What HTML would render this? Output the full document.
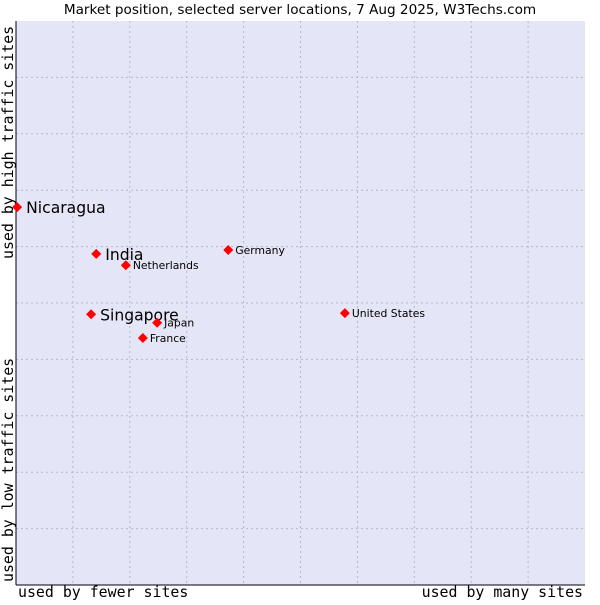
<!DOCTYPE html>
<html><head><meta charset="utf-8"><style>
body{margin:0;background:#fff;width:600px;height:600px;overflow:hidden}
svg text{font-family:"DejaVu Sans","Liberation Sans",sans-serif}
.mono{font-family:"DejaVu Sans Mono","Liberation Mono",monospace}
</style></head><body>
<svg id="chart" width="600" height="600">
<text x="300" y="14" text-anchor="middle" font-size="13.6" fill="#000">Market position, selected server locations, 7 Aug 2025, W3Techs.com</text>
<rect x="16" y="21" width="569" height="564" fill="#e4e6f8"/>
<g id="grid"></g>
<line x1="16" y1="21" x2="16" y2="585" stroke="#000"/>
<line x1="16" y1="585" x2="585" y2="585" stroke="#000"/>
<text class="mono" x="18" y="597" font-size="14.9">used by fewer sites</text>
<text class="mono" x="583" y="597" font-size="14.9" text-anchor="end">used by many sites</text>
<text class="mono" transform="translate(13,582) rotate(-90)" font-size="14.9">used by low traffic sites</text>
<text class="mono" transform="translate(13,259) rotate(-90)" font-size="14.9">used by high traffic sites</text>
<g id="points"></g>
</svg>
<script>
const names=["Nicaragua","India","Netherlands","Germany","United States","Singapore","Japan","France"];
const xVals=[0.2,14.1,19.3,37.3,57.8,13.2,24.8,22.3];
const yVals=[67.0,58.7,56.7,59.4,48.2,48.0,46.5,43.8];
const big=[true,true,false,false,false,true,false,false];
const NS="http://www.w3.org/2000/svg";
const sx=v=>16+v*5.69, sy=v=>585-v*5.64;
const grid=document.getElementById('grid');
for(let i=1;i<10;i++){
 const a=document.createElementNS(NS,'line');
 
 
 a.setAttribute('x1',sx(i*10));a.setAttribute('x2',sx(i*10));a.setAttribute('y1',21);a.setAttribute('y2',585);
 a.setAttribute('stroke','#b8b8c4');a.setAttribute('stroke-dasharray','2,3');grid.appendChild(a);
 const b=document.createElementNS(NS,'line');
 
 
 b.setAttribute('y1',sy(i*10));b.setAttribute('y2',sy(i*10));b.setAttribute('x1',16);b.setAttribute('x2',585);
 b.setAttribute('stroke','#b8b8c4');b.setAttribute('stroke-dasharray','2,3');grid.appendChild(b);
}
const pts=document.getElementById('points');
names.forEach((n,i)=>{
 const x=sx(xVals[i]),y=sy(yVals[i]);
 const p=document.createElementNS(NS,'polygon');
 
 
 p.setAttribute('points',`${x},${y-5} ${x+5},${y} ${x},${y+5} ${x-5},${y}`);
 p.setAttribute('fill','#f00');pts.appendChild(p);
 const t=document.createElementNS(NS,'text');
 
 
 t.setAttribute('x',x+(big[i]?9:7));t.setAttribute('y',y+(big[i]?6:4));
 t.setAttribute('font-size',big[i]?15.6:10.8);t.textContent=n;pts.appendChild(t);
});
</script>
</body></html>
